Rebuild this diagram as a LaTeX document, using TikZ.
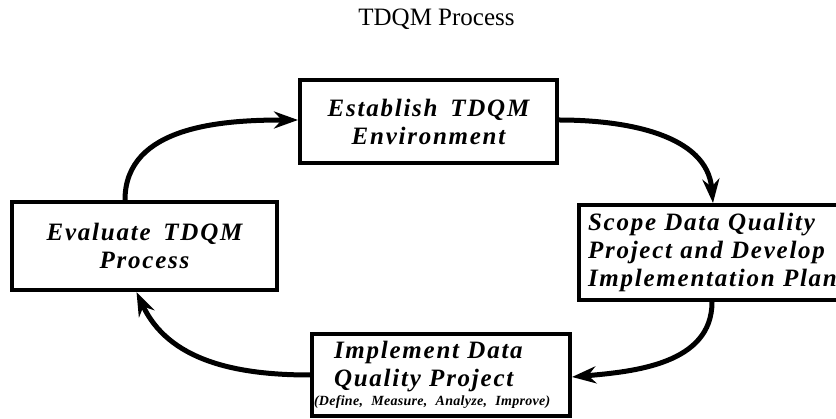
\documentclass[tikz,border=0pt]{standalone}
\usepackage{fontspec}
\setmainfont{Liberation Serif}
\newfontfamily\stagefont[LetterSpace=7,WordSpace=1.6]{Liberation Serif}
\newfontfamily\notefont[LetterSpace=2]{Liberation Serif}
\usetikzlibrary{arrows.meta,positioning}

\begin{document}
\begin{tikzpicture}[x=1pt,y=-1pt,>={Stealth[length=24pt,width=17pt]}]
	\tikzset{stage/.style={draw,line width=4pt,inner sep=0pt,
		font=\stagefont\bfseries\itshape\fontsize{25}{28}\selectfont}}
	\tikzset{flow/.style={->,line width=5pt}}
	\useasboundingbox (0,0) rectangle (836,419);
	\clip (0,0) rectangle (836,419);
	% title
	\node[anchor=base,font=\fontsize{25}{30}\selectfont] (title) at (436.5,26) {TDQM Process};
	% the four stages
	\node[stage,minimum width=257pt,minimum height=83pt,align=center] (establish) at (428.5,121.5) {Establish TDQM\\Environment};
	\node[stage,minimum width=265pt,minimum height=88pt,align=center] (evaluate) at (144.5,246) {Evaluate TDQM\\Process};
	\node[stage,anchor=north west,text width=280pt,minimum height=95pt,inner xsep=9pt,align=left] (scope) at (577,203) {Scope Data Quality\\Project and Develop\\Implementation Plan};
	\node[stage,minimum height=82pt,text width=254pt,inner xsep=2pt,align=left] (implement) at (441,375)
		{\hspace*{20pt}Implement Data\\\hspace*{20pt}Quality Project\\[-9pt]{\notefont\fontsize{14}{15}\selectfont(Define, Measure, Analyze, Improve)}};
	% the cycle
	\draw[flow] ([xshift=-19.5pt]evaluate.north) to[out=90,in=180] ([yshift=1.5pt]establish.west);
	\draw[flow] ([yshift=1.5pt]establish.east) to[out=0,in=95] ([xshift=136pt]scope.north west);
	\draw[flow] ([xshift=135pt]scope.south west) to[out=-90,in=5] ([yshift=-2pt]implement.east);
	\draw[flow] (implement.west) to[out=180,in=-65] ([xshift=-8pt]evaluate.south);
\end{tikzpicture}
\end{document}
